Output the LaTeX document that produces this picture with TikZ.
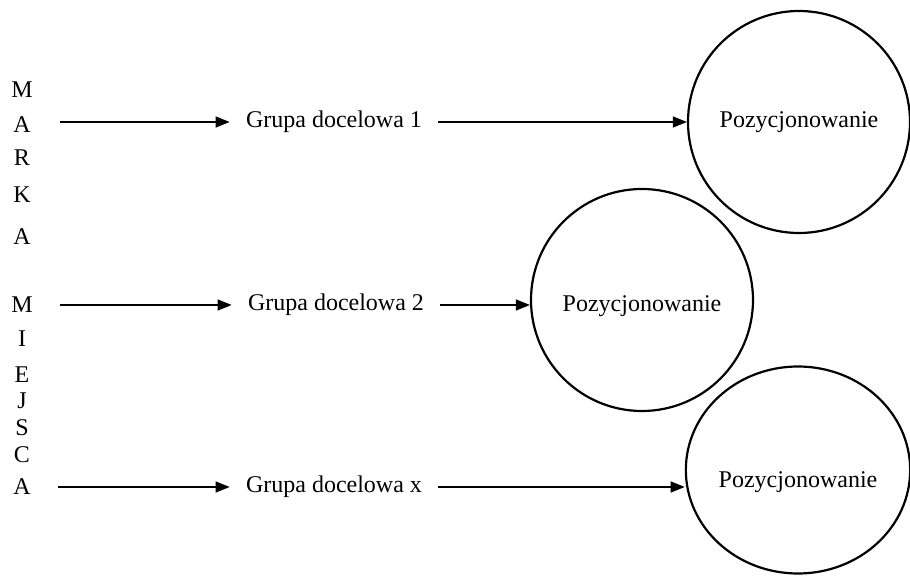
\documentclass[tikz,border=0pt]{standalone}
\usepackage{fontspec}
\setmainfont{Liberation Serif}
\usetikzlibrary{arrows.meta,shapes.geometric}
\tikzset{
  grupa/.style={inner xsep=8pt, inner ysep=2pt},
  poz/.style={draw, line width=1.1pt, inner sep=0pt},
  litera/.style={inner sep=0pt},
  strz/.style={-{Triangle[length=7pt,width=5.5pt]}, line width=0.6pt}
}
\begin{document}
\begin{tikzpicture}[x=0.5pt, y=-0.5pt, font=\fontsize{12}{14}\selectfont]
  \useasboundingbox (0,0) rectangle (910,576);
  % pionowy napis
  \node[litera] (m1) at (22,90) {M};
  \node[litera] (m2) at (22,125) {A};
  \node[litera] (m3) at (22,158) {R};
  \node[litera] (m4) at (22,195) {K};
  \node[litera] (m5) at (22,237) {A};
  \node[litera] (m6) at (22,305) {M};
  \node[litera] (m7) at (22,339) {I};
  \node[litera] (m8) at (22,375) {E};
  \node[litera] (m9) at (22,401) {J};
  \node[litera] (m10) at (22,428) {S};
  \node[litera] (m11) at (22,455) {C};
  \node[litera] (m12) at (22,487) {A};
  % grupy docelowe
  \node[grupa] (g1) at (334,122) {Grupa docelowa 1};
  \node[grupa] (g2) at (336,305) {Grupa docelowa 2};
  \node[grupa] (g3) at (334,487) {Grupa docelowa x};
  % pozycjonowanie
  \node[poz, circle, minimum size=111pt] (p1) at (799,122) {Pozycjonowanie};
  \node[poz, circle, minimum size=111pt] (p2) at (642,300) {\raisebox{-6pt}[0pt][0pt]{Pozycjonowanie}};
  \node[poz, ellipse, minimum width=111pt, minimum height=103.5pt] (p3) at (798,470) {\raisebox{-9pt}[0pt][0pt]{Pozycjonowanie}};
  \coordinate (s1) at (60,122);
  \coordinate (s2) at (60,305);
  \coordinate (s3) at (58,487);
  \begin{scope}[strz]
    \draw (s1) -- (g1.west);
    \draw (s2) -- (g2.west);
    \draw (s3) -- (g3.west);
    \draw (g1.east) -- (p1.west);
    \draw (g2.east) -- (g2.east -| p2.west);
    \draw (g3.east) -- (g3.east -| p3.west);
  \end{scope}
\end{tikzpicture}
\end{document}
